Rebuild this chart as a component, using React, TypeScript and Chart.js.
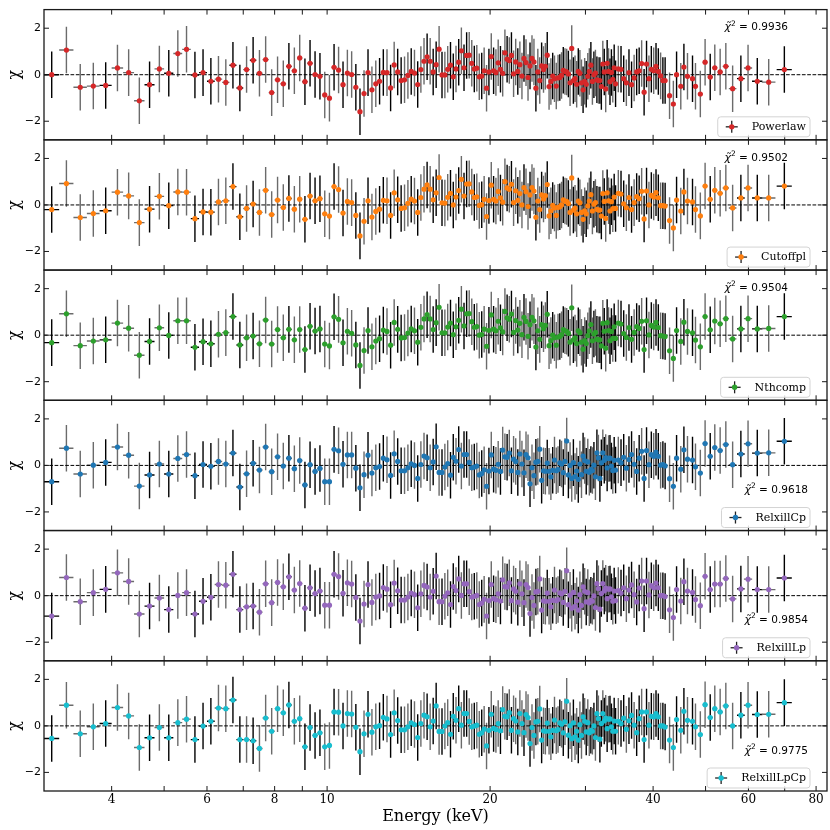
import React, { useEffect, useRef } from 'react';
import { Chart, registerables } from 'chart.js';

Chart.register(...registerables);

// bin centres (keV), shared by all six fits
const energies = [
  3.1, 3.3, 3.5, 3.7, 3.9, 4.1, 4.3, 4.5, 4.7, 4.9,
  5.1, 5.3, 5.5, 5.7, 5.9, 6.1, 6.3, 6.5, 6.7, 6.9,
  7.1, 7.3, 7.5, 7.7, 7.9, 8.1, 8.3, 8.5, 8.7, 8.9,
  9.1, 9.3, 9.5, 9.7, 9.9, 10.1, 10.3, 10.5, 10.7, 10.9,
  11.1, 11.3, 11.5, 11.7, 11.9, 12.1, 12.3, 12.5, 12.7, 12.9,
  13.1, 13.3, 13.5, 13.7, 13.9, 14.1, 14.3, 14.5, 14.7, 14.9,
  15.1, 15.3, 15.5, 15.7, 15.9, 16.1, 16.3, 16.5, 16.7, 16.9,
  17.1, 17.3, 17.5, 17.7, 17.9, 18.1, 18.3, 18.5, 18.7, 18.9,
  19.1, 19.3, 19.5, 19.7, 19.9, 20.1, 20.3, 20.5, 20.7, 20.9,
  21.1, 21.3, 21.5, 21.7, 21.9, 22.1, 22.3, 22.5, 22.7, 22.9,
  23.1, 23.3, 23.5, 23.7, 23.9, 24.1, 24.3, 24.5, 24.7, 24.9,
  25.1, 25.3, 25.5, 25.7, 25.9, 26.1, 26.3, 26.5, 26.7, 26.9,
  27.1, 27.3, 27.5, 27.7, 27.9, 28.1, 28.3, 28.5, 28.7, 28.9,
  29.1, 29.3, 29.5, 29.7, 29.9, 30.1, 30.3, 30.5, 30.7, 30.9,
  31.1, 31.3, 31.5, 31.7, 31.9, 32.1, 32.3, 32.5, 32.7, 32.9,
  33.1, 33.3, 33.5, 33.7, 33.9,
  34.1, 34.5, 34.9, 35.3, 35.7, 36.1, 36.5, 36.9, 37.3, 37.7,
  38.1, 38.5, 38.9, 39.3, 39.7, 40.1, 40.5, 40.9, 41.3, 41.7,
  42.1,
  42.9, 43.6, 44.2, 45.0, 45.6, 46.3, 47.3, 47.9, 48.9, 49.9,
  51.0, 52.0, 53.2, 54.5, 56.1, 58.1, 59.9, 62.3, 65.4, 69.9,
];

// A = black error bars, B = grey error bars (the two detectors)
const instrument = [
  'ABBBABBBAB', 'ABBAAABBAA', 'BABBBBBABB', 'AAAABBABAB', 'BAABABBAAB',
  'ABAABBABAB', 'BABAABABBA', 'ABABAABBAB', 'BABBABABBA', 'BBABABBABB',
  'ABBABBABBA', 'BBABBABBBA', 'BABBABBABB', 'ABBABABBAB', 'ABABAABABA',
  'BAABA', 'ABAABAABAA', 'BAABABAABA', 'A', 'BBABABABBB', 'ABBBBABABA',
].join('');

const powerlaw = [
  0.0, 1.06, -0.54, -0.49, -0.46, 0.29, 0.09, -1.12, -0.43, 0.25,
  0.06, 0.91, 1.09, -0.01, 0.09, -0.28, -0.19, -0.33, 0.41, -0.57,
  0.22, 0.62, 0.06, 0.65, -0.77, -0.22, -0.39, 0.36, 0.17, 0.72,
  -0.30, 0.49, 0.01, -0.07, -0.87, -1.01, 0.32, 0.20, -0.43, 0.07,
  0.01, -0.54, -1.59, -0.81, 0.09, -0.65, -0.39, -0.28, 0.10, 0.09,
  -0.57, 0.42, 0.12, -0.25, -0.22, -0.03, 0.14, 0.07, -0.42, 0.22,
  0.58, 0.77, 0.58, 0.12, 0.43, 1.10, -0.01, -0.01, 0.23, 0.41,
  -0.09, 0.25, 0.54, 1.03, 0.30, 0.83, 0.84, 0.49, 0.25, 0.28,
  -0.09, -0.06, 0.17, -0.58, 0.12, 0.78, 0.17, 0.10, 0.51, 0.23,
  0.06, 0.94, 0.67, 0.61, 0.83, 0.04, 0.55, 0.14, 0.43, -0.06,
  0.70, 0.52, -0.12, 0.38, 0.70, 0.55, -0.58, 0.12, -0.25, 0.38,
  0.22, 0.36, 0.84, -0.51, -0.29, -0.06, -0.17, -0.49, -0.14, -0.12,
  -0.03, 0.19, 0.14, 0.12, 0.03, -0.35, 1.13, -0.25, -0.17, -0.41,
  0.14, 0.06, -0.35, -0.65, -0.28, -0.41, -0.07, 0.14, 0.41, -0.29,
  0.00, 0.07, -0.22, -0.25, -0.25, -0.51, 0.46, 0.12, -0.61, 0.49,
  0.14, -0.30, 0.10, -0.20, 0.30,
  -0.39, 0.25, 0.23, -0.17, -0.35, 0.09, -0.43, -0.14, 0.12, 0.17,
  0.48, -0.75, 0.46, -0.17, 0.23, 0.17, 0.36, 0.14, -0.05, -0.25,
  -0.25,
  -0.90, -1.26, 0.00, -0.50, 0.33, -0.07, -0.17, -0.50, -0.83, 0.54,
  -0.10, 0.30, 0.12, 0.36, -0.60, -0.17, 0.29, -0.28, -0.32, 0.22,
];

const cutoffpl = [
  -0.20, 0.92, -0.54, -0.37, -0.25, 0.55, 0.39, -0.76, -0.18, 0.37,
  -0.03, 0.56, 0.55, -0.59, -0.30, -0.31, 0.13, 0.18, 0.79, -0.51,
  -0.15, 0.04, -0.32, 0.63, -0.41, 0.21, -0.11, 0.28, -0.18, 0.25,
  -0.62, 0.38, 0.18, 0.27, -0.38, -0.48, 0.79, 0.66, -0.35, 0.15,
  0.10, -0.45, -1.33, -0.70, 0.18, -0.52, -0.28, -0.18, 0.20, 0.18,
  -0.45, 0.52, 0.22, -0.15, -0.12, 0.07, 0.25, 0.17, -0.32, 0.32,
  0.68, 0.86, 0.68, 0.22, 0.52, 1.18, 0.09, 0.08, 0.33, 0.50,
  0.00, 0.34, 0.62, 1.10, 0.38, 0.90, 0.91, 0.56, 0.32, 0.35,
  -0.02, 0.01, 0.24, -0.50, 0.19, 0.85, 0.24, 0.17, 0.58, 0.30,
  0.12, 1.00, 0.73, 0.67, 0.89, 0.10, 0.61, 0.20, 0.49, 0.00,
  0.75, 0.57, -0.07, 0.43, 0.75, 0.60, -0.53, 0.17, -0.20, 0.43,
  0.26, 0.40, 0.88, -0.47, -0.25, -0.02, -0.13, -0.45, -0.10, -0.08,
  0.00, 0.22, 0.17, 0.15, 0.06, -0.32, 1.16, -0.22, -0.14, -0.38,
  0.17, 0.09, -0.32, -0.62, -0.25, -0.38, -0.04, 0.17, 0.44, -0.26,
  0.03, 0.10, -0.19, -0.22, -0.22, -0.48, 0.49, 0.15, -0.58, 0.52,
  0.18, -0.26, 0.14, -0.16, 0.34,
  -0.15, 0.50, 0.47, 0.05, -0.12, 0.32, -0.20, 0.10, 0.36, 0.27,
  0.59, -0.60, 0.60, 0.00, 0.41, 0.34, 0.53, 0.31, -0.03, -0.03,
  -0.05,
  -0.67, -0.99, 0.21, -0.26, 0.56, 0.17, 0.13, -0.20, -0.47, 0.81,
  0.24, 0.63, 0.50, 0.73, -0.13, 0.30, 0.73, 0.30, 0.30, 0.81,
];

const nthcomp = [
  -0.32, 0.92, -0.45, -0.25, -0.20, 0.52, 0.30, -0.86, -0.27, 0.32,
  -0.01, 0.62, 0.62, -0.52, -0.28, -0.37, 0.04, 0.11, 0.80, -0.42,
  -0.11, -0.04, -0.37, 0.65, -0.38, 0.24, -0.11, 0.25, -0.20, 0.24,
  -0.62, 0.38, 0.18, 0.27, -0.38, -0.46, 0.79, 0.68, -0.33, 0.17,
  0.08, -0.42, -1.30, -0.66, 0.20, -0.50, -0.25, -0.15, 0.22, 0.16,
  -0.43, 0.55, 0.25, -0.12, -0.10, 0.09, 0.27, 0.19, -0.30, 0.34,
  0.70, 0.88, 0.70, 0.24, 0.54, 1.20, 0.10, 0.10, 0.35, 0.52,
  0.02, 0.36, 0.64, 1.12, 0.40, 0.92, 0.93, 0.58, 0.34, 0.37,
  0.00, 0.03, 0.26, -0.48, 0.21, 0.87, 0.26, 0.19, 0.60, 0.32,
  0.14, 1.02, 0.75, 0.69, 0.91, 0.12, 0.63, 0.22, 0.51, 0.02,
  0.77, 0.59, -0.05, 0.45, 0.77, 0.62, -0.51, 0.19, -0.18, 0.45,
  0.28, 0.42, 0.90, -0.45, -0.23, 0.00, -0.11, -0.43, -0.08, -0.06,
  0.02, 0.24, 0.19, 0.17, 0.08, -0.30, 1.18, -0.20, -0.12, -0.36,
  0.19, 0.11, -0.30, -0.60, -0.23, -0.36, -0.02, 0.19, 0.46, -0.24,
  0.05, 0.12, -0.17, -0.20, -0.20, -0.46, 0.51, 0.17, -0.56, 0.54,
  0.20, -0.24, 0.16, -0.14, 0.36,
  -0.14, 0.52, 0.48, 0.07, -0.10, 0.33, -0.18, 0.12, 0.37, 0.29,
  0.60, -0.62, 0.62, 0.01, 0.42, 0.35, 0.55, 0.33, -0.02, -0.04,
  -0.06,
  -0.67, -1.00, 0.20, -0.27, 0.56, 0.16, 0.10, -0.21, -0.50, 0.80,
  0.23, 0.61, 0.49, 0.71, -0.16, 0.27, 0.71, 0.27, 0.29, 0.80,
];

const relxillCp = [
  -0.70, 0.74, -0.37, 0.01, 0.13, 0.79, 0.44, -0.89, -0.41, 0.06,
  -0.37, 0.30, 0.47, -0.44, 0.04, -0.04, 0.17, 0.06, 0.53, -0.93,
  -0.36, 0.09, -0.20, 0.79, -0.27, 0.37, -0.03, 0.31, -0.14, 0.21,
  -0.84, 0.03, -0.26, -0.13, -0.70, -0.70, 0.69, 0.63, 0.05, 0.45,
  0.45, -0.12, -0.96, -0.40, 0.44, -0.33, -0.10, -0.05, 0.31, 0.24,
  -0.43, 0.50, 0.17, -0.23, -0.23, -0.10, 0.07, 0.00, -0.56, 0.04,
  0.40, 0.33, -0.10, 0.15, 0.80, -0.30, -0.30, -0.07, 0.08, -0.42,
  0.35, 0.18, 0.68, -0.03, 0.47, 0.47, 0.13, -0.10, -0.07, -0.03,
  -0.41, -0.35, -0.19, -0.90, -0.24, 0.45, -0.16, -0.21, 0.05, -0.26,
  0.66, 0.37, 0.35, 0.53, -0.23, 0.27, 0.17, -0.30, 0.49, 0.06,
  -0.32, 0.46, 0.33, -0.79, -0.10, -0.44, 0.14, 0.17, 0.70, -0.64,
  -0.23, -0.25, 0.10, -0.25, -0.49, -0.21, 0.23, -0.23, -0.18, 0.11,
  0.06, -0.31, 0.17, 1.05, -0.41, 0.00, -0.56, 0.12, -0.48, -0.24,
  -0.60, 0.06, -0.40, 0.40, 0.21, -0.25, 0.15, -0.29, -0.18, -0.22,
  0.01, -0.49, 0.54, 0.32, -0.56, 0.11, 0.54, 0.22, 0.34, -0.11,
  0.30, 0.31, -0.03, -0.22, 0.22,
  -0.20, 0.23, 0.12, 0.35, -0.12, 0.25, 0.47, 0.05, -0.26, 0.31,
  0.61, -0.56, 0.64, 0.03, 0.46, 0.39, 0.57, 0.39, 0.01, 0.04,
  -0.02,
  -0.57, -0.90, 0.31, -0.16, 0.67, 0.27, 0.23, -0.06, -0.33, 0.94,
  0.39, 0.77, 0.64, 0.90, 0.03, 0.49, 0.93, 0.53, 0.54, 1.04,
];

const relxillLp = [
  -0.88, 0.78, -0.26, 0.13, 0.27, 0.98, 0.61, -0.79, -0.45, -0.10,
  -0.60, 0.01, 0.13, -0.79, -0.24, -0.07, 0.48, 0.45, 0.92, -0.60,
  -0.48, -0.45, -0.71, 0.51, -0.30, 0.57, 0.38, 0.81, 0.24, 0.52,
  -0.54, 0.34, 0.09, 0.20, -0.41, -0.41, 0.92, 0.82, 0.10, 0.55,
  0.50, -0.08, -1.09, -0.36, 0.48, -0.29, -0.06, -0.01, 0.35, 0.28,
  -0.39, 0.54, 0.21, -0.19, -0.19, -0.06, 0.11, 0.04, -0.52, 0.08,
  0.44, 0.37, -0.06, 0.19, 0.84, -0.26, -0.26, -0.03, 0.12, -0.38,
  0.39, 0.22, 0.72, 0.01, 0.51, 0.51, 0.17, -0.06, -0.03, 0.01,
  -0.38, -0.32, -0.16, -0.88, -0.21, 0.48, -0.13, -0.18, 0.08, -0.23,
  0.68, 0.39, 0.37, 0.55, -0.21, 0.29, 0.19, -0.28, 0.51, 0.08,
  -0.30, 0.48, 0.35, -0.77, -0.08, -0.42, 0.16, 0.19, 0.72, -0.62,
  -0.22, -0.24, 0.11, -0.24, -0.48, -0.20, 0.24, -0.22, -0.17, 0.12,
  0.08, -0.29, 0.19, 1.07, -0.39, 0.02, -0.54, 0.14, -0.46, -0.22,
  -0.62, 0.04, -0.42, 0.38, 0.19, -0.27, 0.13, -0.31, -0.20, -0.24,
  -0.01, -0.51, 0.52, 0.30, -0.58, 0.09, 0.52, 0.20, 0.32, -0.13,
  0.28, 0.29, -0.05, -0.24, 0.20,
  -0.21, 0.22, 0.11, 0.34, -0.13, 0.24, 0.46, 0.04, -0.27, 0.33,
  0.63, -0.56, 0.63, 0.03, 0.43, 0.34, 0.54, 0.34, 0.00, 0.00,
  -0.04,
  -0.61, -0.94, 0.26, -0.23, 0.60, 0.20, 0.14, -0.17, -0.43, 0.83,
  0.26, 0.50, 0.50, 0.74, -0.14, 0.29, 0.71, 0.26, 0.26, 0.76,
];

const relxillLpCp = [
  -0.54, 0.89, -0.34, -0.04, 0.10, 0.79, 0.43, -0.93, -0.51, -0.07,
  -0.51, 0.14, 0.29, -0.59, -0.01, 0.20, 0.77, 0.74, 1.11, -0.59,
  -0.59, -0.64, -0.97, 0.34, -0.23, 0.74, 0.56, 0.90, 0.20, 0.31,
  -0.90, -0.07, -0.41, -0.30, -0.90, -0.84, 0.60, 0.59, 0.00, 0.53,
  0.51, -0.06, -1.11, -0.34, 0.50, -0.27, -0.04, 0.01, 0.37, 0.30,
  -0.37, 0.56, 0.23, -0.17, -0.17, -0.04, 0.13, 0.06, -0.50, 0.10,
  0.46, 0.39, -0.04, 0.21, 0.86, -0.24, -0.24, -0.01, 0.14, -0.36,
  0.41, 0.24, 0.74, 0.03, 0.53, 0.53, 0.19, -0.04, -0.01, 0.03,
  -0.36, -0.30, -0.14, -0.86, -0.19, 0.50, -0.11, -0.16, 0.10, -0.21,
  0.70, 0.41, 0.39, 0.57, -0.19, 0.31, 0.21, -0.26, 0.53, 0.10,
  -0.29, 0.49, 0.36, -0.76, -0.07, -0.41, 0.17, 0.20, 0.73, -0.61,
  -0.21, -0.23, 0.12, -0.23, -0.47, -0.19, 0.25, -0.21, -0.16, 0.13,
  0.07, -0.30, 0.18, 1.06, -0.40, 0.01, -0.55, 0.13, -0.47, -0.23,
  -0.61, 0.05, -0.41, 0.39, 0.20, -0.26, 0.14, -0.30, -0.19, -0.23,
  0.00, -0.50, 0.53, 0.31, -0.57, 0.10, 0.53, 0.21, 0.33, -0.12,
  0.29, 0.30, -0.04, -0.23, 0.21,
  -0.23, 0.20, 0.10, 0.33, -0.15, 0.22, 0.45, 0.03, -0.29, 0.31,
  0.60, -0.59, 0.60, 0.03, 0.41, 0.39, 0.53, 0.39, 0.00, 0.00,
  -0.05,
  -0.61, -0.93, 0.27, -0.19, 0.63, 0.24, 0.20, -0.04, -0.37, 0.91,
  0.36, 0.74, 0.60, 0.86, 0.00, 0.46, 0.89, 0.49, 0.50, 1.00,
];

const models = ['Powerlaw', 'Cutoffpl', 'Nthcomp', 'RelxillCp', 'RelxillLp', 'RelxillLpCp'];
const residuals = [powerlaw, cutoffpl, nthcomp, relxillCp, relxillLp, relxillLpCp];
const redChi2 = ['0.9936', '0.9502', '0.9504', '0.9618', '0.9854', '0.9775'];
const colors = ['#d62728', '#ff7f0e', '#2ca02c', '#1f77b4', '#9467bd', '#17becf'];

const xTickLabels = [4, 6, 8, 10, 20, 40, 60, 80];
const xMinorTicks = [5, 7, 9, 30, 50, 70];
const yTicks = [-2, 0, 2];

// half width of a bin from its neighbours
const halfWidth = (i: number) => {
  const n = energies.length;
  if (i === 0) return (energies[1] - energies[0]) / 2;
  if (i === n - 1) return (energies[n - 1] - energies[n - 2]) / 2;
  return (energies[i + 1] - energies[i - 1]) / 4;
};

const panelPlugin = {
  id: 'panels',
  beforeDatasetsDraw(chart: any) {
    const { ctx } = chart;
    const x = chart.scales.x;
    ctx.save();
    residuals.forEach((vals, p) => {
      const y = chart.scales['y' + p];
      const n = Math.min(vals.length, energies.length);
      ctx.lineWidth = 1.4;
      for (let i = 0; i < n; i++) {
        const e = energies[i];
        const v = vals[i];
        const hw = halfWidth(i);
        const px = x.getPixelForValue(e);
        const py = y.getPixelForValue(v);
        ctx.strokeStyle = instrument[i] === 'A' ? '#000000' : '#6b6b6b';
        ctx.beginPath();
        ctx.moveTo(x.getPixelForValue(e - hw), py);
        ctx.lineTo(x.getPixelForValue(e + hw), py);
        ctx.moveTo(px, y.getPixelForValue(v - 1));
        ctx.lineTo(px, y.getPixelForValue(v + 1));
        ctx.stroke();
      }
      const y0 = y.getPixelForValue(0);
      ctx.strokeStyle = '#000';
      ctx.lineWidth = 1;
      ctx.setLineDash([3.7, 1.6]);
      ctx.beginPath();
      ctx.moveTo(x.left, y0);
      ctx.lineTo(x.right, y0);
      ctx.stroke();
      ctx.setLineDash([]);
    });
    ctx.restore();
  },
  afterDatasetsDraw(chart: any) {
    const { ctx, chartArea } = chart;
    const x = chart.scales.x;
    const line = (x1: number, y1: number, x2: number, y2: number) => {
      ctx.beginPath();
      ctx.moveTo(x1, y1);
      ctx.lineTo(x2, y2);
      ctx.stroke();
    };
    ctx.save();
    models.forEach((model, p) => {
      const y = chart.scales['y' + p];
      const top = y.top;
      const bottom = y.bottom;

      // frame
      ctx.strokeStyle = '#1a1a1a';
      ctx.lineWidth = 1.3;
      ctx.strokeRect(chartArea.left, top, chartArea.right - chartArea.left, bottom - top);

      // inward ticks on all four sides
      ctx.lineWidth = 1;
      [...xTickLabels, ...xMinorTicks].forEach((v) => {
        const px = x.getPixelForValue(v);
        if (px <= chartArea.left + 1 || px >= chartArea.right - 1) return;
        line(px, top, px, top + 5);
        line(px, bottom, px, bottom - 5);
      });
      yTicks.forEach((v) => {
        const py = y.getPixelForValue(v);
        line(chartArea.left, py, chartArea.left + 5, py);
        line(chartArea.right, py, chartArea.right - 5, py);
      });

      // reduced chi-square text
      const upper = p < 3;
      const tx = upper ? 788 : 808;
      const ty = upper ? top + 18 : top + 90;
      const parts = [
        { t: '\u03C7\u0303', f: 'italic 11px "DejaVu Sans"', dy: 0 },
        { t: '2', f: '7.5px "DejaVu Sans"', dy: -4 },
        { t: ' = ' + redChi2[p], f: '10.5px "DejaVu Sans"', dy: 0 },
      ];
      let w = 0;
      parts.forEach((s) => { ctx.font = s.f; w += ctx.measureText(s.t).width; });
      let cx = tx - w;
      ctx.fillStyle = '#000';
      ctx.textBaseline = 'middle';
      ctx.textAlign = 'left';
      parts.forEach((s) => {
        ctx.font = s.f;
        ctx.fillText(s.t, cx, ty + s.dy);
        cx += ctx.measureText(s.t).width;
      });

      // legend box
      ctx.font = '11px "DejaVu Serif"';
      const tw = ctx.measureText(model).width;
      const textRight = 806;
      const textLeft = textRight - tw;
      const boxLeft = textLeft - 34;
      const boxRight = 810;
      const boxBottom = bottom - 3;
      const boxTop = boxBottom - 20;
      ctx.beginPath();
      ctx.roundRect(boxLeft, boxTop, boxRight - boxLeft, boxBottom - boxTop, 3);
      ctx.fillStyle = 'rgba(255,255,255,0.85)';
      ctx.fill();
      ctx.strokeStyle = '#d3d3d3';
      ctx.lineWidth = 1;
      ctx.stroke();
      const hx = boxLeft + 14;
      const hy = (boxTop + boxBottom) / 2;
      ctx.strokeStyle = '#222';
      ctx.lineWidth = 1.3;
      line(hx - 6, hy, hx + 6, hy);
      line(hx, hy - 6, hx, hy + 6);
      ctx.fillStyle = colors[p];
      ctx.beginPath();
      ctx.arc(hx, hy, 2.7, 0, Math.PI * 2);
      ctx.fill();
      ctx.fillStyle = '#000';
      ctx.textBaseline = 'middle';
      ctx.fillText(model, textLeft, hy + 0.5);
    });
    ctx.restore();
  },
};

const App: React.FC = () => {
  const canvasRef = useRef<HTMLCanvasElement | null>(null);

  useEffect(() => {
    if (!canvasRef.current) return;
    const ctx = canvasRef.current.getContext('2d');
    if (!ctx) return;

    const scales: any = {
      x: {
        type: 'logarithmic',
        position: 'bottom',
        min: 3.0,
        max: 83.8,
        grid: { display: false, drawTicks: false },
        border: { display: false },
        afterBuildTicks: (s: any) => {
          s.ticks = xTickLabels.map((v) => ({ value: v }));
        },
        afterFit: (s: any) => {
          s.height = 39;
        },
        ticks: {
          autoSkip: false,
          maxRotation: 0,
          padding: 2,
          color: '#000',
          font: { family: 'DejaVu Serif', size: 12 },
          callback: (v: any) => String(v),
        },
        title: {
          display: true,
          text: 'Energy (keV)',
          color: '#000',
          font: { family: 'DejaVu Serif', size: 16 },
          padding: { top: 0, bottom: 4 },
        },
      },
    };
    models.forEach((m, p) => {
      scales['y' + p] = {
        type: 'linear',
        position: 'left',
        stack: 'panels',
        stackWeight: 1,
        weight: models.length - p,
        min: -2.8,
        max: 2.8,
        grid: { display: false, drawTicks: false },
        border: { display: false },
        afterBuildTicks: (s: any) => {
          s.ticks = yTicks.map((v) => ({ value: v }));
        },
        afterFit: (s: any) => {
          s.width = 44;
        },
        ticks: {
          padding: 3,
          color: '#000',
          font: { family: 'DejaVu Sans', size: 11 },
          callback: (v: any) => (v < 0 ? '\u2212' + Math.abs(v) : String(v)),
        },
        title: {
          display: true,
          text: '\u03C7',
          color: '#000',
          font: { family: 'DejaVu Serif', size: 16 },
          padding: { top: 5, bottom: 0 },
        },
      };
    });

    const chart = new Chart(ctx, {
      type: 'scatter',
      data: {
        datasets: models.map((m, p) => ({
          label: m,
          data: energies.map((e, i) => ({ x: e, y: residuals[p][i] })),
          xAxisID: 'x',
          yAxisID: 'y' + p,
          pointRadius: 2.6,
          pointHoverRadius: 2.6,
          pointBackgroundColor: colors[p],
          pointBorderWidth: 0,
          showLine: false,
        })),
      },
      options: {
        responsive: false,
        animation: false,
        layout: { padding: { top: 5, right: 3, bottom: 0, left: 0 } },
        scales,
        plugins: {
          legend: { display: false },
          tooltip: { enabled: false },
        },
      },
      plugins: [panelPlugin],
    });

    return () => {
      chart.destroy();
    };
  }, []);

  return (
    <div style={{ position: 'absolute', left: 0, top: 0, width: 830, height: 830, background: '#fff' }}>
      <canvas ref={canvasRef} width={830} height={830} />
    </div>
  );
};

export default App;
